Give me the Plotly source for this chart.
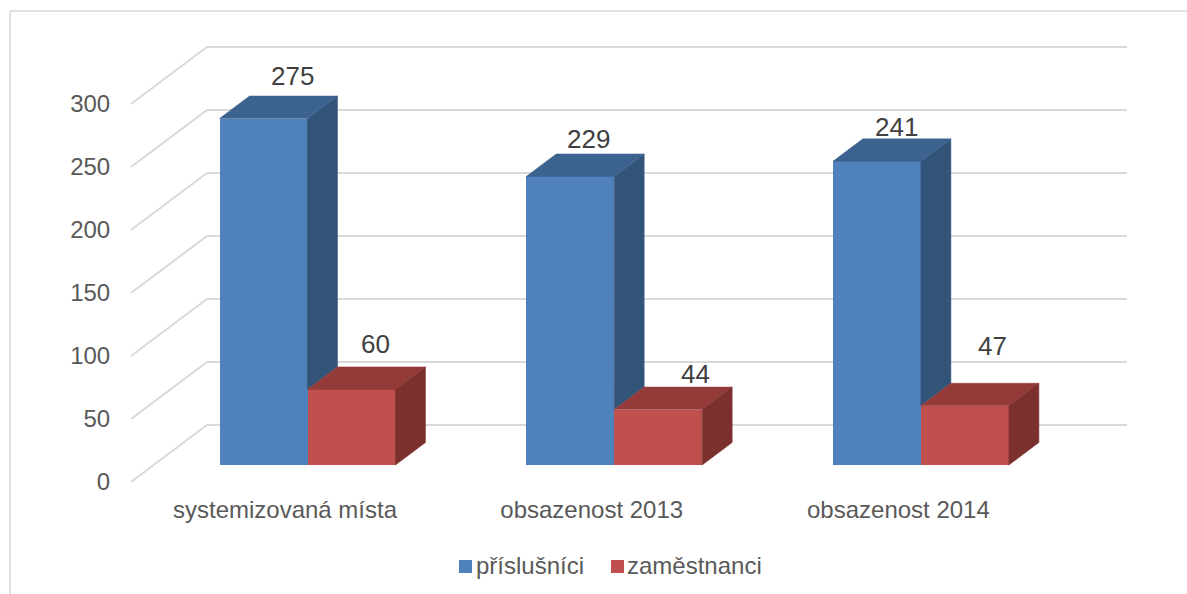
import plotly.graph_objects as go

categories = ["systemizovaná místa", "obsazenost 2013", "obsazenost 2014"]
prislusnici = [275, 229, 241]
zamestnanci = [60, 44, 47]
axis_ticks = [0, 50, 100, 150, 200, 250, 300]
series_names = ["příslušníci", "zaměstnanci"]

BLUE, BLUE_TOP, BLUE_SIDE = "#4f81bd", "#3c6290", "#335479"
RED, RED_TOP, RED_SIDE = "#c0504d", "#943a38", "#7c302e"
GRID = "#d9d9d9"
FONT = "Liberation Sans, Arial, sans-serif"

# scales: one category = 306.7 px, one value unit = 63/50 px
L, R, T, B = 125, 1135, 40, 490
PX_PER_CAT, PX_PER_UNIT = 306.7, 63 / 50
X0_PX, Y0_PX = 307.5, 465


def cat_of(px):
    return (px - X0_PX) / PX_PER_CAT


def val_of(px):
    return (Y0_PX - px) / PX_PER_UNIT


BAR_W = 88 / PX_PER_CAT
DEPTH_X, DEPTH_Y = 30 / PX_PER_CAT, 22.5 / PX_PER_UNIT
WALL_X0, WALL_X1 = cat_of(131), cat_of(1127)
WALL_DX, WALL_DY = 76 / PX_PER_CAT, 57 / PX_PER_UNIT
FLOOR_FRONT = val_of(482)

fig = go.Figure()
shapes = []

# gridlines: side wall + back wall, under all marks
for t in axis_ticks:
    v = FLOOR_FRONT + t
    grid = dict(type="line", xref="x", yref="y", layer="below", line=dict(color=GRID, width=2))
    shapes.append(dict(grid, x0=WALL_X0, y0=v, x1=WALL_X0 + WALL_DX, y1=v + WALL_DY))
    shapes.append(dict(grid, x0=WALL_X0 + WALL_DX, y0=v + WALL_DY, x1=WALL_X1, y1=v + WALL_DY))


def poly(xs, ys, color):
    fig.add_trace(go.Scatter(x=xs + xs[:1], y=ys + ys[:1], mode="lines", fill="toself",
                             fillcolor=color, line=dict(color=color, width=0.5),
                             hoverinfo="skip", showlegend=False))


for i, (a, b) in enumerate(zip(prislusnici, zamestnanci)):
    # blue side, only the part above the red box, then blue top
    poly([i, i + DEPTH_X, i + DEPTH_X, i], [a, a + DEPTH_Y, b + DEPTH_Y, b], BLUE_SIDE)
    poly([i - BAR_W, i, i + DEPTH_X, i - BAR_W + DEPTH_X], [a, a, a + DEPTH_Y, a + DEPTH_Y], BLUE_TOP)
    # red top and side
    poly([i, i + BAR_W, i + BAR_W + DEPTH_X, i + DEPTH_X], [b, b, b + DEPTH_Y, b + DEPTH_Y], RED_TOP)
    poly([i + BAR_W, i + BAR_W + DEPTH_X, i + BAR_W + DEPTH_X, i + BAR_W],
         [b, b + DEPTH_Y, DEPTH_Y, 0], RED_SIDE)

xs = list(range(len(categories)))
fig.add_trace(go.Bar(x=xs, y=prislusnici, name=series_names[0], width=BAR_W, offset=-BAR_W,
                     marker=dict(color=BLUE, line=dict(width=0)), hoverinfo="y", showlegend=False))
fig.add_trace(go.Bar(x=xs, y=zamestnanci, name=series_names[1], width=BAR_W, offset=0,
                     marker=dict(color=RED, line=dict(width=0)), hoverinfo="y", showlegend=False))

# data labels, each with its own hand placement (px) from the middle of the front face top
label_shift_blue = [(29, 42.5), (18, 37.5), (20, 34.4)]
label_shift_red = [(24, 45), (37, 35.6), (28, 60)]
annotations = []
for i in xs:
    for val, cx, (sx, sy) in ((prislusnici[i], i - BAR_W / 2, label_shift_blue[i]),
                              (zamestnanci[i], i + BAR_W / 2, label_shift_red[i])):
        annotations.append(dict(x=cx, y=val, text=str(val), showarrow=False, xshift=sx, yshift=sy,
                                xanchor="center", yanchor="middle",
                                font=dict(family=FONT, size=26, color="#404040")))

W, H = 1187, 594
PW, PH = R - L, B - T
fx = lambda px: (px - L) / PW
fy = lambda py: (B - py) / PH
border = dict(type="line", xref="paper", yref="paper", line=dict(color=GRID, width=1.5))
shapes.append(dict(border, x0=fx(10), x1=fx(1187), y0=fy(11), y1=fy(11)))
shapes.append(dict(border, x0=fx(10), x1=fx(10), y0=fy(11), y1=fy(594)))

# legend: square swatch close to its text
for name, color, sw_px, tx_gap in zip(series_names, [BLUE, RED], [459, 611], [15, 14]):
    shapes.append(dict(type="rect", xref="paper", yref="paper", x0=fx(sw_px), x1=fx(sw_px + 13),
                       y0=fy(560), y1=fy(573), fillcolor=color, line=dict(width=0)))
    annotations.append(dict(xref="paper", yref="paper", x=fx(sw_px + tx_gap), y=fy(565.5), text=name,
                            showarrow=False, xanchor="left", yanchor="middle",
                            font=dict(family=FONT, size=24, color="#595959")))

fig.update_layout(
    width=W, height=H, autosize=False,
    margin=dict(l=L, r=W - R, t=T, b=H - B, pad=0),
    paper_bgcolor="white", plot_bgcolor="white",
    barmode="overlay", bargap=0, showlegend=False,
    annotations=annotations, shapes=shapes,
    font=dict(family=FONT, color="#595959"),
    xaxis=dict(range=[cat_of(L), cat_of(R)], showgrid=False, zeroline=False, showline=False,
               tickmode="array", tickvals=[i - 22.5 / PX_PER_CAT for i in xs], ticktext=categories,
               ticks="", ticklabelstandoff=3, tickfont=dict(size=24, color="#595959", family=FONT)),
    yaxis=dict(range=[val_of(B), val_of(T)], showgrid=False, zeroline=False, showline=False,
               tickmode="array", tickvals=[FLOOR_FRONT + t for t in axis_ticks],
               ticktext=[str(t) for t in axis_ticks],
               ticks="outside", ticklen=9, tickcolor="rgba(0,0,0,0)",
               tickfont=dict(size=24, color="#595959", family=FONT)),
)
fig.write_html("out.html", post_script="document.body.style.margin='0';",
               config={"displayModeBar": False})
